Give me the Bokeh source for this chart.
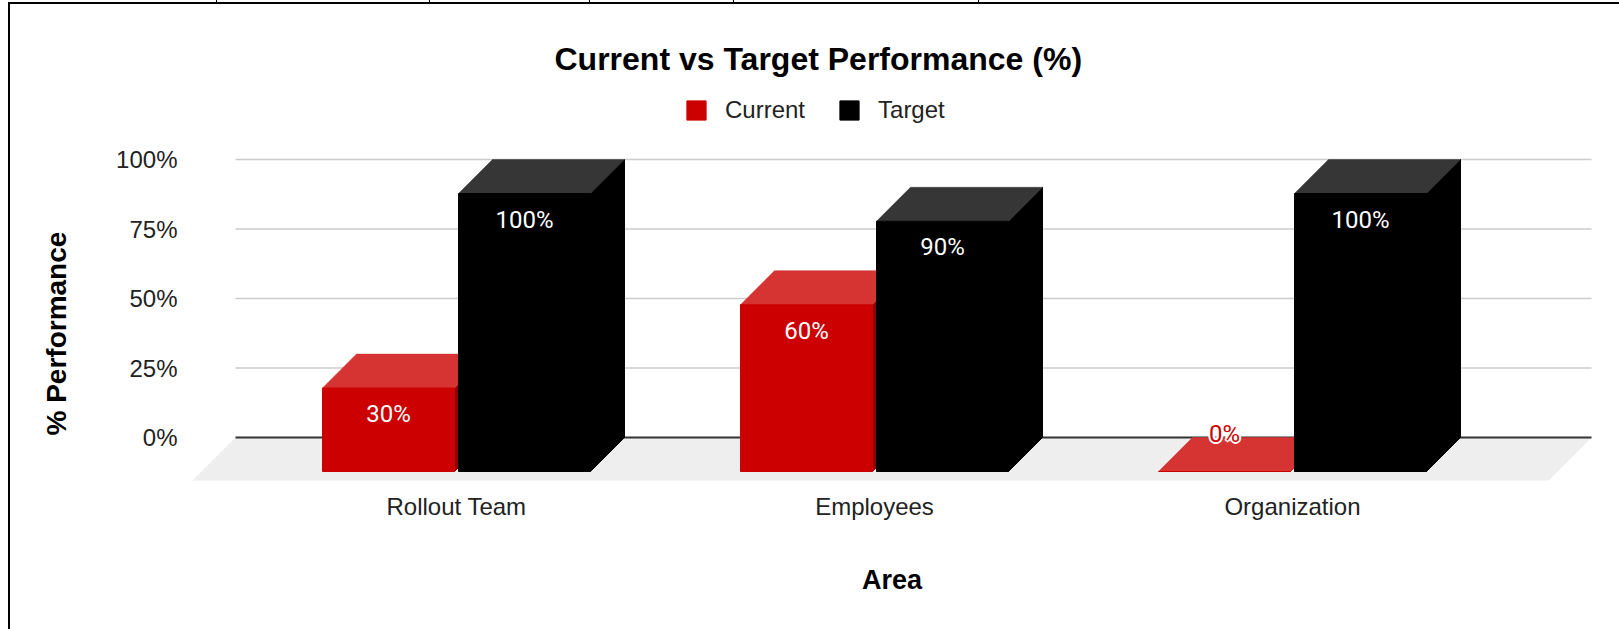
import math
import numpy as np
from bokeh.plotting import figure
from bokeh.models import (ColumnDataSource, FixedTicker, Range1d, Legend,
                          LegendItem, Title, InlineStyleSheet)
from bokeh.embed import file_html
from bokeh.resources import INLINE
from bokeh.core.properties import value

# ---------------- data ----------------
categories = ["Rollout Team", "Employees", "Organization"]
current = [30, 60, 0]
target = [100, 90, 100]
series_names = ["Current", "Target"]
y_ticks = [0, 25, 50, 75, 100]
y_tick_labels = ["0%", "25%", "50%", "75%", "100%"]

# ---------------- layout constants (window pixels) ----------------
W, H = 1619, 629
FL, FR, FT, FB = 186, 1597, 95, 486       # frame edges
PX_X = 418.0                              # px per category
PX_Y = 2.78                               # px per percent point
C0 = 456.0                                # px of first category centre
Y0 = 437.0                                # px of 0 %

x_start = (FL - C0) / PX_X
x_end = (FR - C0) / PX_X
y_end = (Y0 - FT) / PX_Y
y_start = (Y0 - FB) / PX_Y

bar_w = 132 / PX_X
gap = 2 / PX_X
dx = 34 / PX_X
dy = 34 / PX_Y
floor_dx = 43 / PX_X
floor_dy = 43 / PX_Y
grid_x0 = (235 - C0) / PX_X
grid_x1 = (1591 - C0) / PX_X

FONT = "Liberation Sans"

# spreadsheet cell borders visible around the chart (page background, not data)
cell_ticks = [216, 429, 589, 733, 978]
bg_layers = [f"linear-gradient(#000,#000) {t}px 0px / 1px 3px no-repeat" for t in cell_ticks]
bg_layers += ["linear-gradient(#000,#000) 8px 2px / 2px 100% no-repeat",
              "linear-gradient(#000,#000) 8px 2px / 100% 2px no-repeat",
              "#ffffff"]
sheet = InlineStyleSheet(css=":host { background: " + ", ".join(bg_layers) + "; }")

p = figure(width=W, height=H, output_backend="svg", toolbar_location=None,
           x_range=Range1d(x_start, x_end), y_range=Range1d(y_start, y_end),
           min_border_left=FL, min_border_right=W - FR,
           min_border_top=FT, min_border_bottom=H - FB,
           stylesheets=[sheet])
p.outline_line_color = None
p.xgrid.visible = False
p.ygrid.visible = False
p.background_fill_color = "white"
p.border_fill_color = None
p.border_fill_alpha = 0

# floor
p.patch([grid_x0, grid_x1, grid_x1 - floor_dx, grid_x0 - floor_dx],
        [0, 0, -floor_dy, -floor_dy], fill_color="#eeeeee", line_color=None)

# gridlines
gt = [t for t in y_ticks if t != 0]
p.segment(x0=[grid_x0] * len(gt), x1=[grid_x1] * len(gt), y0=gt, y1=gt,
          line_color="#cccccc", line_width=1.5)
p.segment(x0=[grid_x0], x1=[grid_x1], y0=[0], y1=[0], line_color="#333333", line_width=2)

idx = np.arange(len(categories), dtype=float)


def draw_series(vals, x0, front_col, top_col, side_col):
    vals = np.asarray(vals, dtype=float)
    x1 = x0 + bar_w
    side_xs = [[a, a + dx, a + dx, a] for a in x1]
    side_ys = [[-dy, 0, v, v - dy] for v in vals]
    p.patches(side_xs, side_ys, fill_color=side_col, line_color=side_col, line_width=1)
    top_xs = [[a, b, b + dx, a + dx] for a, b in zip(x0, x1)]
    top_ys = [[v - dy, v - dy, v, v] for v in vals]
    p.patches(top_xs, top_ys, fill_color=top_col, line_color=top_col, line_width=0.5)
    r = p.quad(left=x0, right=x1, bottom=[-dy] * len(vals), top=vals - dy,
               fill_color=front_col, line_color=front_col, line_width=1)
    return r


red_x0 = idx - gap - bar_w
blk_x0 = idx + gap
r_cur = draw_series(current, red_x0, "#cc0000", "#d63333", "#8e0000")
r_tgt = draw_series(target, blk_x0, "#000000", "#363636", "#000000")

# data labels
label_in_off = 26 / PX_Y
label_out_off = 38 / PX_Y
for vals, x0, col in ((current, red_x0, "#cc0000"), (target, blk_x0, "#000000")):
    vals = np.asarray(vals, dtype=float)
    xc = x0 + bar_w / 2
    inside = vals - dy > label_in_off * 1.4
    txt = [f"{int(v)}%" for v in vals]
    yin = vals - dy - label_in_off
    yout = vals - dy + label_out_off
    src_in = ColumnDataSource(dict(x=xc[inside], y=yin[inside],
                                   t=[t for t, k in zip(txt, inside) if k]))
    p.text(x="x", y="y", text="t", source=src_in, text_color="white",
           text_font=value("Roboto"), text_font_size="24px",
           text_align="center", text_baseline="middle")
    out = ~inside
    if out.any():
        src_out = ColumnDataSource(dict(x=xc[out], y=yout[out],
                                        t=[t for t, k in zip(txt, out) if k]))
        for ox, oy in [(-2, 0), (2, 0), (0, -2), (0, 2), (-1.5, -1.5), (1.5, 1.5), (-1.5, 1.5), (1.5, -1.5)]:
            p.text(x="x", y="y", text="t", source=src_out, text_color="white",
                   x_offset=ox, y_offset=oy,
                   text_font=value("Roboto"), text_font_size="24px",
                   text_align="center", text_baseline="middle")
        p.text(x="x", y="y", text="t", source=src_out, text_color=col,
               text_font=value("Roboto"), text_font_size="24px",
               text_align="center", text_baseline="middle")

# axes
p.xaxis.ticker = FixedTicker(ticks=list(idx))
p.xaxis.major_label_overrides = {float(i): c for i, c in enumerate(categories)}
p.xaxis.axis_line_color = None
p.xaxis.major_tick_line_color = None
p.xaxis.minor_tick_line_color = None
p.xaxis.major_tick_out = 0
p.xaxis.major_tick_in = 0
p.xaxis.major_label_standoff = 6
p.xaxis.major_label_text_font = FONT
p.xaxis.major_label_text_font_size = "24px"
p.xaxis.major_label_text_color = "#222222"
p.xaxis.axis_label = "Area"
p.xaxis.axis_label_text_font = FONT
p.xaxis.axis_label_text_font_style = "bold"
p.xaxis.axis_label_text_font_size = "27px"
p.xaxis.axis_label_text_color = "#000000"
p.xaxis.axis_label_standoff = 42

p.yaxis.ticker = FixedTicker(ticks=y_ticks)
p.yaxis.major_label_overrides = {t: l for t, l in zip(y_ticks, y_tick_labels)}
p.yaxis.axis_line_color = None
p.yaxis.major_tick_line_color = None
p.yaxis.minor_tick_line_color = None
p.yaxis.major_tick_out = 0
p.yaxis.major_tick_in = 0
p.yaxis.major_label_standoff = 9
p.yaxis.major_label_text_font = FONT
p.yaxis.major_label_text_font_size = "24px"
p.yaxis.major_label_text_color = "#222222"

# legend inside the (white) upper part of the frame
legend = Legend(items=[LegendItem(label=series_names[0], renderers=[r_cur]),
                       LegendItem(label=series_names[1], renderers=[r_tgt])],
                orientation="horizontal", location=(498, 362),
                glyph_width=24, glyph_height=24, label_height=24, label_standoff=17,
                spacing=32, padding=0, margin=0, border_line_alpha=0,
                background_fill_alpha=0, label_text_font=FONT,
                label_text_font_size="24px", label_text_color="#222222")
p.add_layout(legend)

# chart title
p.title = Title(text="Current vs Target Performance (%)", align="left", offset=554 - FL,
                standoff=37, text_font=FONT, text_font_style="bold",
                text_font_size="32px", text_color="#000000")

# gap between the tick labels and the y-axis title, then the y-axis title
p.add_layout(Title(text=" ", standoff=34, text_font=FONT, text_font_size="1px",
                   text_color="#ffffff"), "left")
p.add_layout(Title(text="% Performance", align="left", offset=FB - 435,
                   vertical_align="bottom", standoff=10, text_font=FONT,
                   text_font_style="bold", text_font_size="28px",
                   text_color="#000000"), "left")

open("out.html", "w").write(file_html(p, INLINE))
